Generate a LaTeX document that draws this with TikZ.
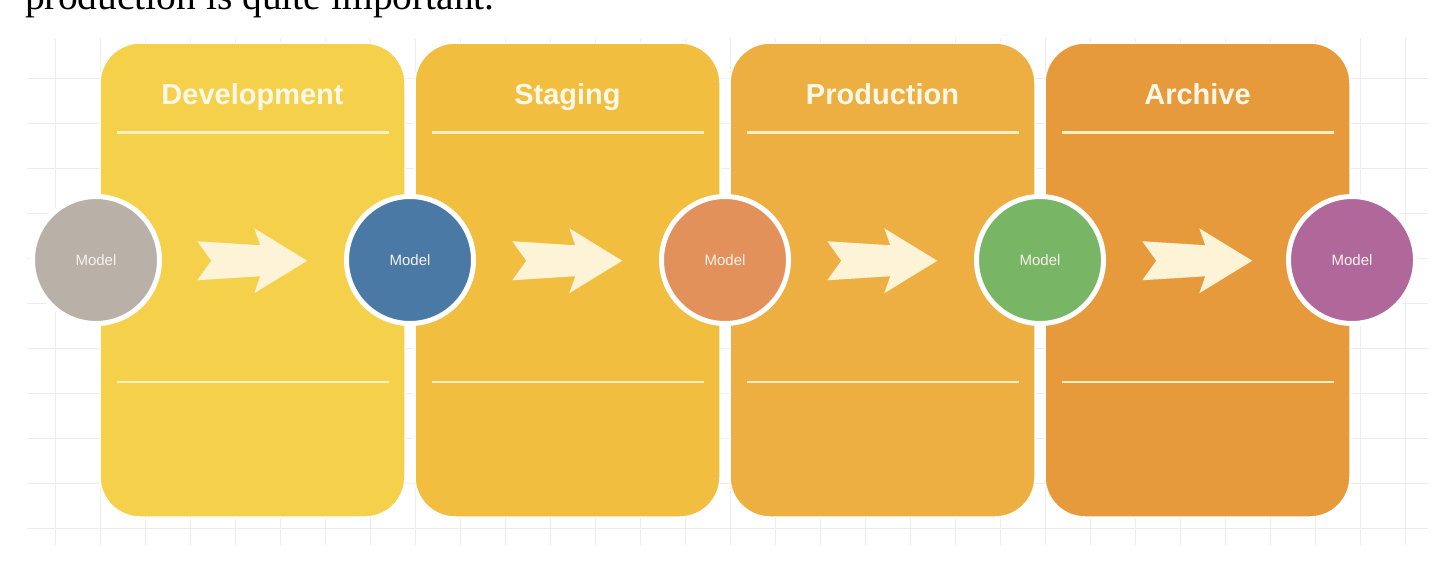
\documentclass[tikz,border=0pt]{standalone}
\usepackage{fontspec}
\setmainfont{Liberation Serif}
\newfontfamily\labelfont{Liberation Sans}
\usepackage{tikz}
\usetikzlibrary{positioning}

\definecolor{devyellow}{HTML}{F5D14B}
\definecolor{stgyellow}{HTML}{F1BE40}
\definecolor{prdorange}{HTML}{EDAF42}
\definecolor{arcorange}{HTML}{E69A3B}
\definecolor{greymodel}{HTML}{B9B0A7}
\definecolor{bluemodel}{HTML}{4A79A5}
\definecolor{orangemodel}{HTML}{E3915B}
\definecolor{greenmodel}{HTML}{78B564}
\definecolor{purplemodel}{HTML}{B0689A}
\definecolor{cream}{HTML}{FDF3D6}
\definecolor{rulecream}{HTML}{FFF0C0}
\definecolor{titlecream}{HTML}{FFF8E6}
\definecolor{modeltext}{HTML}{F6F2EC}
\definecolor{gridgrey}{HTML}{EDEDED}

\begin{document}
\begin{tikzpicture}[x=1pt,y=-1pt,
    stage/.style={rectangle,rounded corners=40pt,minimum width=305pt,minimum height=474pt,draw=white,line width=1.5pt},
    title/.style={anchor=base,text=titlecream,font=\labelfont\bfseries\fontsize{29}{34}\selectfont},
    rule/.style={draw=rulecream,line width=2.5pt},
    model/.style={circle,draw=white,line width=5pt,minimum size=127pt,inner sep=0pt,text=modeltext,font=\labelfont\fontsize{15}{18}\selectfont},
    fwd/.pic={\fill[cream] (0,0) -- ++(63,4) -- ++(-6,-17) -- ++(53,32.5) -- ++(-53,32.5) -- ++(6,-17) -- ++(-63,4) -- ++(14,-19.5) -- cycle;}]
    \useasboundingbox (0,0) rectangle (1456,560);

    % cut-off sentence above the figure
    \begin{scope}
        \clip (0,0) rectangle (1456,30);
        \node(intro)[anchor=base west,inner sep=0pt,font=\fontsize{39.5}{44}\selectfont] at (25,9.5) {production is quite important.};
    \end{scope}

    % background grid
    \foreach \gx in {0,...,30} \draw[gridgrey,line width=0.8pt] (55+45*\gx,38) -- (55+45*\gx,545);
    \foreach \gy in {0,...,10} \draw[gridgrey,line width=0.8pt] (27,78+45*\gy) -- (1428,78+45*\gy);

    \node(dev)[stage,fill=devyellow] at (252.5,280) {};
    \node(stg)[stage,fill=stgyellow] at ([xshift=315pt]dev.center) {};
    \node(prd)[stage,fill=prdorange] at ([xshift=315pt]stg.center) {};
    \node(arc)[stage,fill=arcorange] at ([xshift=315pt]prd.center) {};

    \node(tdev)[title] at ([yshift=-62pt]dev.north) {Development};
    \node(tstg)[title] at ([yshift=-62pt]stg.north) {Staging};
    \node(tprd)[title] at ([yshift=-62pt]prd.north) {Production};
    \node(tarc)[title] at ([yshift=-62pt]arc.north) {Archive};

    \draw[rule] ([xshift=18pt,yshift=-90pt]dev.north west) -- ([xshift=-17pt,yshift=-90pt]dev.north east);
    \draw[rule] ([xshift=18pt,yshift=-90pt]stg.north west) -- ([xshift=-17pt,yshift=-90pt]stg.north east);
    \draw[rule] ([xshift=18pt,yshift=-90pt]prd.north west) -- ([xshift=-17pt,yshift=-90pt]prd.north east);
    \draw[rule] ([xshift=18pt,yshift=-90pt]arc.north west) -- ([xshift=-17pt,yshift=-90pt]arc.north east);
    \draw[rule] ([xshift=18pt,yshift=136pt]dev.south west) -- ([xshift=-17pt,yshift=136pt]dev.south east);
    \draw[rule] ([xshift=18pt,yshift=136pt]stg.south west) -- ([xshift=-17pt,yshift=136pt]stg.south east);
    \draw[rule] ([xshift=18pt,yshift=136pt]prd.south west) -- ([xshift=-17pt,yshift=136pt]prd.south east);
    \draw[rule] ([xshift=18pt,yshift=136pt]arc.south west) -- ([xshift=-17pt,yshift=136pt]arc.south east);

    \pic at ([xshift=98pt,yshift=-199pt]dev.north west) {fwd};
    \pic at ([xshift=98pt,yshift=-199pt]stg.north west) {fwd};
    \pic at ([xshift=98pt,yshift=-199pt]prd.north west) {fwd};
    \pic at ([xshift=98pt,yshift=-199pt]arc.north west) {fwd};

    \node(m0)[model,fill=greymodel] at (96,260) {Model};
    \node(m1)[model,fill=bluemodel] at (410,260) {Model};
    \node(m2)[model,fill=orangemodel] at (725,260) {Model};
    \node(m3)[model,fill=greenmodel] at (1040,260) {Model};
    \node(m4)[model,fill=purplemodel] at (1352,260) {Model};
\end{tikzpicture}
\end{document}
